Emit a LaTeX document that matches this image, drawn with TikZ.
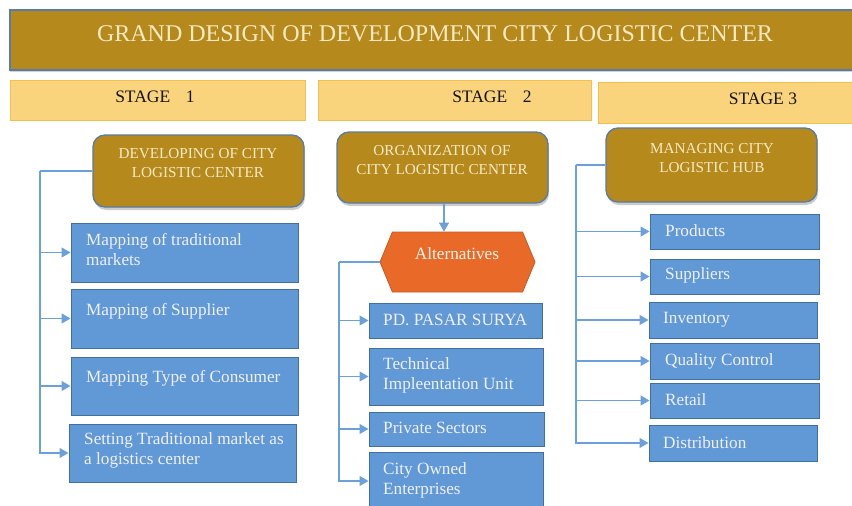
\documentclass[tikz,border=0pt]{standalone}
\usepackage{fontspec}
\setmainfont{Liberation Serif}
\usetikzlibrary{arrows.meta,shadows,shapes.symbols}
\definecolor{goldfill}{HTML}{B5891C}
\definecolor{creamtxt}{HTML}{F6EAC4}
\definecolor{stagefill}{HTML}{F9D47C}
\definecolor{stageedge}{HTML}{F3C04E}
\definecolor{boxblue}{HTML}{6198D6}
\definecolor{boxedge}{HTML}{41709E}
\definecolor{linkblue}{HTML}{6CA0DC}
\definecolor{altorange}{HTML}{E96A28}
\definecolor{edgegray}{HTML}{5A7BA3}
\begin{document}
\begin{tikzpicture}[x=1pt,y=-1pt,
  titlebar/.style={draw=edgegray, line width=1.5pt, fill=goldfill, minimum width=860pt, minimum height=60pt, inner sep=0pt, drop shadow={shadow xshift=0pt,shadow yshift=-2pt,opacity=0.35}},
  stagebar/.style={draw=stageedge, line width=0.8pt, fill=stagefill, inner sep=0pt, minimum height=40pt},
  goldbox/.style={draw=edgegray, line width=1.3pt, fill=goldfill, rounded corners=12pt, minimum width=211pt, inner sep=0pt, drop shadow={shadow xshift=1pt, shadow yshift=-3pt, opacity=0.4}},
  bluebox/.style={draw=boxedge, line width=1pt, fill=boxblue, inner sep=0pt},
  bluetxt/.style={anchor=west, inner sep=0pt, text=white!94!blue, font=\fontsize{17.2}{20}\selectfont, align=left},
  goldtxt/.style={inner sep=0pt, text=creamtxt, font=\fontsize{15.2}{19}\selectfont, align=center},
  stagetxt/.style={inner sep=0pt, text=black!92, font=\fontsize{17.5}{20}\selectfont},
  link/.style={draw=linkblue, line width=1.3pt},
  arr/.style={link, -{Triangle[width=10pt,length=9pt]}}
]
\useasboundingbox (0,0) rectangle (852,506);
\fill[white] (0,0) rectangle (852,506);

% title
\node[titlebar] (title) at (440,40) {};
\node[inner sep=0pt, text=creamtxt, font=\fontsize{24}{28}\selectfont] (titletxt) at (435,34) {GRAND DESIGN OF DEVELOPMENT CITY LOGISTIC CENTER};

% stages
\node[stagebar, minimum width=295pt] (s1) at (157.5,100) {};
\node[stagebar, minimum width=273pt] (s2) at (454.5,100) {};
\node[stagebar, minimum width=262pt, minimum height=41pt] (s3) at (729,102.5) {};
\node[stagetxt] (s1t) at (155,97) {STAGE\hspace{0.9em}1};
\node[stagetxt] (s2t) at (492,97) {STAGE\hspace{0.9em}2};
\node[stagetxt] (s3t) at (763,99) {STAGE 3};

% gold boxes
\node[goldbox, minimum height=72pt] (dev) at (198.5,171) {};
\node[goldtxt] (devt) at (198,163.5) {DEVELOPING OF CITY\\LOGISTIC CENTER};
\node[goldbox, minimum height=71pt] (org) at (442.5,167.5) {};
\node[goldtxt] (orgt) at (442,160.5) {ORGANIZATION OF\\CITY LOGISTIC CENTER};
\node[goldbox, minimum height=74pt] (man) at (711.5,165) {};
\node[goldtxt] (mant) at (712,158) {MANAGING CITY\\LOGISTIC HUB};

% stage 1 boxes
\node[bluebox, minimum width=227pt, minimum height=59pt] (b1) at (184.5,252.5) {};
\node[bluebox, minimum width=227pt, minimum height=59pt] (b2) at (184.5,318.5) {};
\node[bluebox, minimum width=227pt, minimum height=58pt] (b3) at (184.5,386) {};
\node[bluebox, minimum width=227pt, minimum height=58pt] (b4) at (182.5,453) {};
\node[bluetxt] (b1t) at (86,250) {Mapping of traditional\\markets};
\node[bluetxt] (b2t) at (86,311) {Mapping of Supplier};
\node[bluetxt] (b3t) at (86,378) {Mapping Type of Consumer};
\node[bluetxt] (b4t) at (84,450.5) {Setting Traditional market as\\a logistics center};

% stage 2
\node[signal, signal to=west and east, signal pointer angle=135, fill=altorange, draw=altorange!85!black, line width=0.8pt, minimum width=155pt, minimum height=60pt, inner sep=0pt] (alt) at (457.5,262) {};
\node[inner sep=0pt, text=white!94!orange, font=\fontsize{17.2}{20}\selectfont] (altt) at (457,254) {Alternatives};
\node[bluebox, minimum width=173pt, minimum height=35pt] (p1) at (455.5,320.5) {};
\node[bluebox, minimum width=174pt, minimum height=57pt] (p2) at (456,376.5) {};
\node[bluebox, minimum width=175pt, minimum height=34pt] (p3) at (456.5,429) {};
\node[bluebox, minimum width=174pt, minimum height=58pt] (p4) at (456,481) {};
\node[bluetxt] (p1t) at (383,320) {PD. PASAR SURYA};
\node[bluetxt] (p2t) at (383,375) {Technical\\Impleentation Unit};
\node[bluetxt] (p3t) at (383,428) {Private Sectors};
\node[bluetxt] (p4t) at (383,480) {City Owned\\Enterprises};

% stage 3
\node[bluebox, minimum width=169pt, minimum height=35pt] (q1) at (734.5,231.5) {};
\node[bluebox, minimum width=169pt, minimum height=35pt] (q2) at (734.5,276.5) {};
\node[bluebox, minimum width=168pt, minimum height=36pt] (q3) at (733,320) {};
\node[bluebox, minimum width=169pt, minimum height=36pt] (q4) at (734.5,361) {};
\node[bluebox, minimum width=169pt, minimum height=35pt] (q5) at (734.5,400.5) {};
\node[bluebox, minimum width=168pt, minimum height=36pt] (q6) at (733,443) {};
\node[bluetxt] (q1t) at (665,231) {Products};
\node[bluetxt] (q2t) at (665,275) {Suppliers};
\node[bluetxt] (q3t) at (663,320) {Inventory};
\node[bluetxt] (q4t) at (665,361) {Quality Control};
\node[bluetxt] (q5t) at (665,400) {Retail};
\node[bluetxt] (q6t) at (663,443) {Distribution};

% connectors
\coordinate (t1) at (40,171);
\draw[link] (dev.west) -- (t1);
\foreach \b in {b1,b2,b3,b4} \draw[arr] (t1) |- (\b.west);

\draw[arr] ([xshift=1.5pt]org.south) -- ([xshift=1.5pt]org.south |- alt.north);
\coordinate (t2) at (339,262);
\draw[link] (alt.west) -- (t2);
\foreach \b in {p1,p2,p3,p4} \draw[arr] (t2) |- (\b.west);

\coordinate (t3) at (576,165);
\draw[link] (man.west) -- (t3);
\foreach \b in {q1,q2,q3,q4,q5,q6} \draw[arr] (t3) |- (\b.west);
\end{tikzpicture}
\end{document}
